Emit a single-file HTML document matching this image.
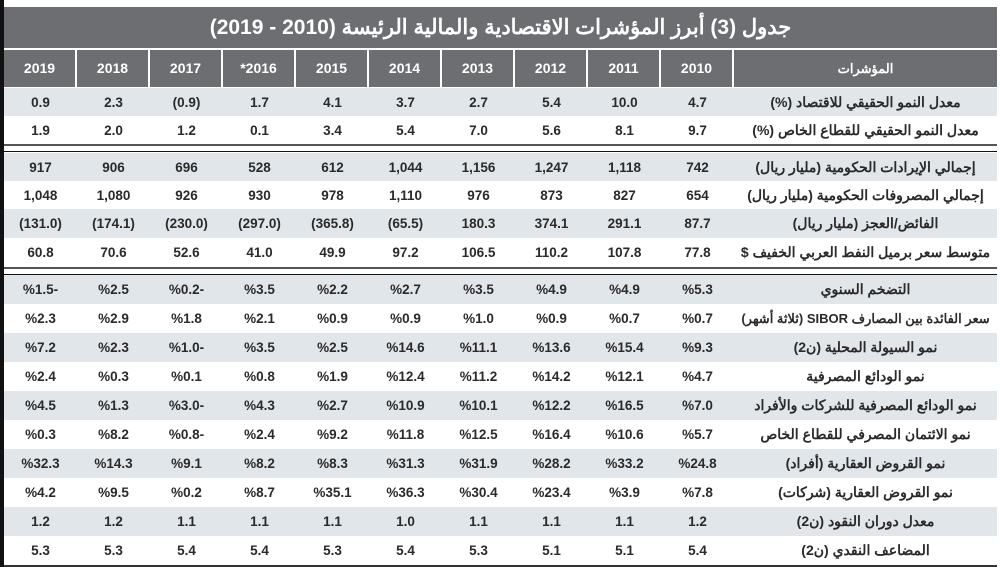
<!DOCTYPE html>
<html><head><meta charset="utf-8"><style>
*{margin:0;padding:0;box-sizing:border-box}
body{width:1000px;height:567px;background:#fff;position:relative;overflow:hidden;font-family:"Liberation Sans","Noto Sans CJK SC",sans-serif;color:#2a2a2a}
.lb{position:absolute;left:0;top:0;width:4px;height:567px;background:#111}
.title{position:absolute;left:4px;top:7px;width:993px;height:41px;background:#6d6e71;color:#fff;font-weight:bold;font-size:21px;direction:rtl;text-align:center;line-height:41px}
.hdr{position:absolute;left:4px;top:50px;width:993px;height:37px;display:flex;background:#6d6e71}
.hdr div{width:73px;border-right:2px solid #fff;color:#fff;font-weight:bold;font-size:14px;text-align:center;line-height:37px;unicode-bidi:bidi-override;direction:ltr}
.hdr div.l{width:263px;border-right:none;direction:rtl;unicode-bidi:normal;font-size:13px}
.row{position:absolute;left:4px;width:993px;display:flex;align-items:center}
.row.s{background:#e1e6ea}
.row div{width:73px;text-align:center;font-weight:bold;font-size:13.5px;unicode-bidi:bidi-override;direction:ltr}
.row div.l{width:263px;direction:rtl;unicode-bidi:normal;font-size:14px;text-align:center;white-space:nowrap}
.ln{position:absolute;left:4px;width:993px}
</style></head><body>
<div class="lb"></div>
<div class="title">جدول (3) أبرز المؤشرات الاقتصادية والمالية الرئيسة (2010 - 2019)</div>
<div class="hdr"><div>2019</div><div>2018</div><div>2017</div><div>*2016</div><div>2015</div><div>2014</div><div>2013</div><div>2012</div><div>2011</div><div>2010</div><div class="l">المؤشرات</div></div>

<div class="row s" style="top:88px;height:28px"><div>0.9</div><div>2.3</div><div>(0.9)</div><div>1.7</div><div>4.1</div><div>3.7</div><div>2.7</div><div>5.4</div><div>10.0</div><div>4.7</div><div class="l">معدل النمو الحقيقي للاقتصاد  (%)</div></div>
<div class="row" style="top:116px;height:28px"><div>1.9</div><div>2.0</div><div>1.2</div><div>0.1</div><div>3.4</div><div>5.4</div><div>7.0</div><div>5.6</div><div>8.1</div><div>9.7</div><div class="l">معدل النمو الحقيقي للقطاع الخاص  (%)</div></div>
<div class="ln" style="top:144px;height:2px;background:#555"></div>
<div class="ln" style="top:151px;height:1px;background:#111"></div>

<div class="row s" style="top:153px;height:28px"><div>917</div><div>906</div><div>696</div><div>528</div><div>612</div><div>1,044</div><div>1,156</div><div>1,247</div><div>1,118</div><div>742</div><div class="l">إجمالي الإيرادات الحكومية (مليار ريال)</div></div>
<div class="row" style="top:181px;height:28px"><div>1,048</div><div>1,080</div><div>926</div><div>930</div><div>978</div><div>1,110</div><div>976</div><div>873</div><div>827</div><div>654</div><div class="l">إجمالي المصروفات الحكومية (مليار ريال)</div></div>
<div class="row s" style="top:209px;height:29px"><div>(131.0)</div><div>(174.1)</div><div>(230.0)</div><div>(297.0)</div><div>(365.8)</div><div>(65.5)</div><div>180.3</div><div>374.1</div><div>291.1</div><div>87.7</div><div class="l">الفائض/العجز (مليار ريال)</div></div>
<div class="row" style="top:238px;height:29px"><div>60.8</div><div>70.6</div><div>52.6</div><div>41.0</div><div>49.9</div><div>97.2</div><div>106.5</div><div>110.2</div><div>107.8</div><div>77.8</div><div class="l">متوسط سعر برميل النفط العربي الخفيف $</div></div>
<div class="ln" style="top:267px;height:2px;background:#555"></div>
<div class="ln" style="top:274px;height:1px;background:#111"></div>

<div class="row s" style="top:275px;height:29px"><div>%1.5-</div><div>%2.5</div><div>%0.2-</div><div>%3.5</div><div>%2.2</div><div>%2.7</div><div>%3.5</div><div>%4.9</div><div>%4.9</div><div>%5.3</div><div class="l">التضخم السنوي</div></div>
<div class="row" style="top:304px;height:29px"><div>%2.3</div><div>%2.9</div><div>%1.8</div><div>%2.1</div><div>%0.9</div><div>%0.9</div><div>%1.0</div><div>%0.9</div><div>%0.7</div><div>%0.7</div><div class="l" style="font-size:13px">سعر الفائدة بين المصارف SIBOR (ثلاثة أشهر)</div></div>
<div class="row s" style="top:333px;height:29px"><div>%7.2</div><div>%2.3</div><div>%1.0-</div><div>%3.5</div><div>%2.5</div><div>%14.6</div><div>%11.1</div><div>%13.6</div><div>%15.4</div><div>%9.3</div><div class="l">نمو السيولة المحلية (ن2)</div></div>
<div class="row" style="top:362px;height:29px"><div>%2.4</div><div>%0.3</div><div>%0.1</div><div>%0.8</div><div>%1.9</div><div>%12.4</div><div>%11.2</div><div>%14.2</div><div>%12.1</div><div>%4.7</div><div class="l">نمو الودائع المصرفية</div></div>
<div class="row s" style="top:391px;height:29px"><div>%4.5</div><div>%1.3</div><div>%3.0-</div><div>%4.3</div><div>%2.7</div><div>%10.9</div><div>%10.1</div><div>%12.2</div><div>%16.5</div><div>%7.0</div><div class="l">نمو الودائع المصرفية للشركات والأفراد</div></div>
<div class="row" style="top:420px;height:29px"><div>%0.3</div><div>%8.2</div><div>%0.8-</div><div>%2.4</div><div>%9.2</div><div>%11.8</div><div>%12.5</div><div>%16.4</div><div>%10.6</div><div>%5.7</div><div class="l">نمو الائتمان المصرفي للقطاع الخاص</div></div>
<div class="row s" style="top:449px;height:29px"><div>%32.3</div><div>%14.3</div><div>%9.1</div><div>%8.2</div><div>%8.3</div><div>%31.3</div><div>%31.9</div><div>%28.2</div><div>%33.2</div><div>%24.8</div><div class="l">نمو القروض العقارية (أفراد)</div></div>
<div class="row" style="top:478px;height:29px"><div>%4.2</div><div>%9.5</div><div>%0.2</div><div>%8.7</div><div>%35.1</div><div>%36.3</div><div>%30.4</div><div>%23.4</div><div>%3.9</div><div>%7.8</div><div class="l">نمو القروض العقارية (شركات)</div></div>
<div class="row s" style="top:507px;height:29px"><div>1.2</div><div>1.2</div><div>1.1</div><div>1.1</div><div>1.1</div><div>1.0</div><div>1.1</div><div>1.1</div><div>1.1</div><div>1.2</div><div class="l">معدل دوران النقود (ن2)</div></div>
<div class="row" style="top:536px;height:29px"><div>5.3</div><div>5.3</div><div>5.4</div><div>5.4</div><div>5.3</div><div>5.4</div><div>5.3</div><div>5.1</div><div>5.1</div><div>5.4</div><div class="l">المضاعف النقدي (ن2)</div></div>
<div class="ln" style="top:565px;height:2px;background:#333"></div>
</body></html>
